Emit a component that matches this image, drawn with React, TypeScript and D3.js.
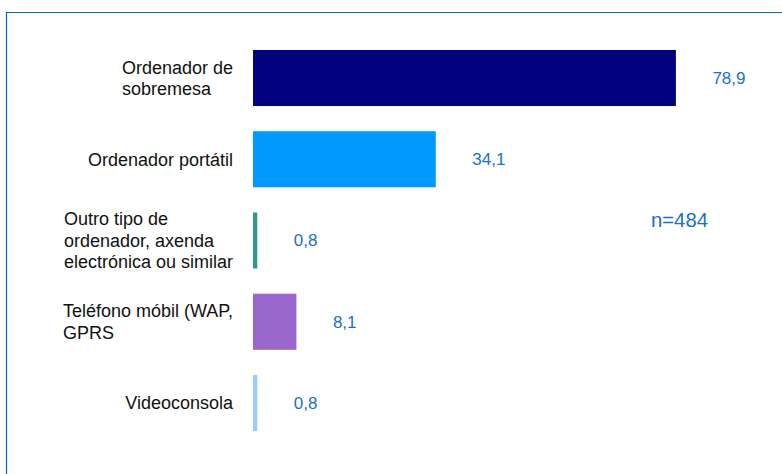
import React, { useMemo } from "react";
import * as d3 from "d3";

const categories: string[][] = [
  ["Ordenador de", "sobremesa"],
  ["Ordenador portátil"],
  ["Outro tipo de", "ordenador, axenda", "electrónica ou similar"],
  ["Teléfono móbil (WAP,", "GPRS"],
  ["Videoconsola"],
];
const values = [78.9, 34.1, 0.8, 8.1, 0.8];
const valueLabels = ["78,9", "34,1", "0,8", "8,1", "0,8"];
const colors = ["#000080", "#0099FF", "#2E9A8E", "#9966CC", "#99CCFF"];
const note = "n=484";

const FONT_FAMILY = "'Liberation Sans', Arial, sans-serif";
const LABEL_SIZE = 18;

export default function App() {
  const W = 782, H = 474;
  const ids = categories.map((_, i) => String(i));
  const x = d3.scaleLinear().domain([0, 100]).range([253, 789]);
  const y = d3.scaleBand<string>().domain(ids).range([37.4, 443.6]).paddingInner(0.31).paddingOuter(0.155);
  const lh = 21.5;
  const labelRight = 233;

  const blockWidths = useMemo(() => {
    const c = document.createElement("canvas").getContext("2d");
    if (!c) return categories.map(() => 0);
    c.font = `${LABEL_SIZE}px ${FONT_FAMILY}`;
    return categories.map((lines) => Math.max(...lines.map((l) => c.measureText(l).width)));
  }, []);

  return (
    <svg width={W} height={H} style={{ position: "absolute", left: 0, top: 0, display: "block" }} fontFamily={FONT_FAMILY}>
      <rect x={0} y={0} width={W} height={H} fill="#fff" />
      <path d={`M6.5,${H} V12.5 H${W}`} fill="none" stroke="#0066CC" strokeWidth={1.2} />
      {values.map((v, i) => {
        const yy = y(ids[i])!;
        const bh = y.bandwidth();
        const cy = yy + bh / 2;
        const lines = categories[i];
        const startY = cy - ((lines.length - 1) * lh) / 2;
        const lx = labelRight - blockWidths[i];
        return (
          <g key={i}>
            <rect x={x(0)} y={yy} width={x(v) - x(0)} height={bh} fill={colors[i]} />
            <text x={x(v) + 36.5} y={cy} dy="0.35em" fontSize={17} fill="#1a6fd1">{valueLabels[i]}</text>
            <text fontSize={LABEL_SIZE} fill="#111">
              {lines.map((l, j) => (
                <tspan key={j} x={lx} y={startY + j * lh} dy="0.35em">{l}</tspan>
              ))}
            </text>
          </g>
        );
      })}
      <text x={651} y={220} dy="0.35em" fontSize={20.3} fill="#1a6fd1">{note}</text>
    </svg>
  );
}
